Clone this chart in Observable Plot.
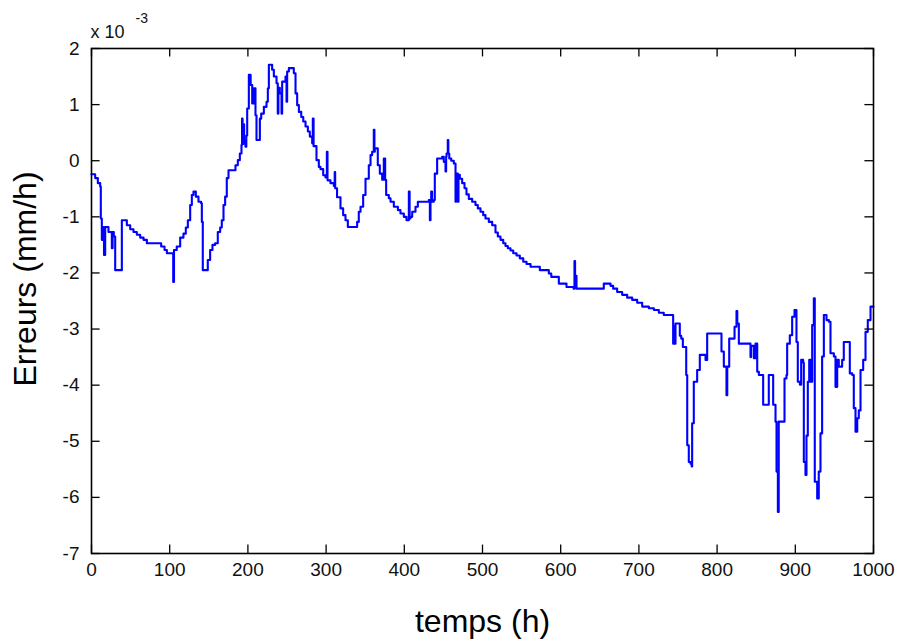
<!DOCTYPE html>
<html>
<head>
<meta charset="utf-8">
<script src="https://cdn.jsdelivr.net/npm/d3@7"></script>
<script src="https://cdn.jsdelivr.net/npm/@observablehq/plot@0.6"></script>
<style>
  html, body { margin: 0; padding: 0; background: #fff; }
  #chart { width: 898px; height: 641px; }
</style>
</head>
<body>
<div id="chart"></div>
<script>
// Time (h)
const T = [
  0, 4.7, 8.1, 11.1, 11.9, 13.2, 14, 16, 17.5, 21.7, 26, 27, 28.5, 30.3, 38.8, 45.2, 49.5, 53.7, 58, 62.2,
  66.5, 70.8, 89.1, 93.4, 96.4, 104.5, 105.5, 109, 113.4, 117.6, 120.6, 123.2, 126.2, 128.3, 130.4, 133.4, 136.8, 140.2, 141.1, 142.3,
  148.7, 151.7, 154.7, 158.1, 161.5, 164.5, 166.6, 168.8, 170.9, 173, 175.2, 184.1, 187.1, 189.7, 191.8,
  192.5, 193.2, 194.5, 195.2, 196.9, 198, 199.1, 201.2, 203.5, 205.5, 207.6, 209.7, 211, 215.3, 217, 220.4, 223.8, 225.5, 226.8, 231,
  233.2, 236.6, 238.2, 239, 240.8, 243, 243.8, 248.1, 249.4, 250.2, 252.4, 258.7, 260.9, 263, 265.2, 268.2, 270.8, 273.7, 276.7, 279.2,
  282.2, 283, 284, 287.7, 290.7, 292.8, 296.3, 299.2, 301, 301.8, 305.6, 309.9, 311, 311.6, 314, 318.4, 321.8, 324.8, 327.8,
  339.7, 341.8, 344, 347.4, 350.4, 354.6, 356.8, 358.9, 361, 361.8, 362.3, 366.1, 368.7, 371.7, 373.8, 375.5, 376.8, 380.2, 382.4, 386.6,
  391.8, 395.1, 399.4, 402.8, 405.8, 406.8, 407.9, 410.1, 414.3, 417.3, 431.4, 432.7, 433.5, 434.4, 435.5, 437.7, 439, 442, 448.4, 450.5,
  452.7, 453.5, 454, 455.6, 456.3, 457.5, 460, 463.3, 465.5, 466.3, 468.4, 469.3, 471, 474, 477, 479.5, 482.5, 486.8, 491, 494,
  497.4, 500.9, 503.8, 508.1, 512.4, 516.6, 519.6, 523, 526.5, 529.4, 532.4, 535.8, 539.3, 543.5, 547.7, 552.1, 556.3, 561.4, 573.3, 584.8,
  587.9, 597.6, 607.4, 616.5, 617.6, 618.4, 619, 620.2, 655.1, 663.7, 667.1, 672.2, 678.6, 685, 691.4, 697.8, 704.2, 712.7, 719.1, 725.5,
  731.8, 743.8, 744.6, 745.5, 746.8, 752.3, 754.1, 756.2, 760.5, 761.8, 763.8, 766, 767.5, 768.1, 770.2, 774.5, 777.9, 785.2, 787.3, 805.6,
  808.6, 812, 813, 815.5, 822.3, 824.8, 825.8, 827.8, 842.7, 843.5, 847, 849.1, 851.3, 853.4, 858.9, 866.1, 871.7, 874.7, 876, 877.7,
  878.8, 886.2, 888.7, 889.6, 893, 896, 899, 901.5, 903.2, 905.8, 907.5, 910.1, 910.9, 913, 914.3, 916, 917.8, 919.4, 921.6, 923.7,
  924.9, 928, 930, 932.2, 934.3, 936.5, 939.9, 942.9, 945, 949.3, 951.4, 953.6, 955.6, 959.9, 962, 969.7, 972.8, 974.8, 977, 979.2,
  981.2, 983.4, 986.8, 989.8, 992.7, 996.2, 1000
];
// Errors (x 10^-3 mm/h)
const E = [
  -0.24, -0.31, -0.40, -0.46, -1.03, -1.41, -1.18, -1.68, -1.18, -1.27, -1.56, -1.27, -1.35, -1.95, -1.06, -1.15, -1.22, -1.27, -1.32, -1.37,
  -1.41, -1.47, -1.53, -1.59, -1.65, -2.16, -1.59, -1.53, -1.37, -1.30, -1.19, -1.06, -0.79, -0.61, -0.55, -0.64, -0.73, -0.76, -1.09, -1.95,
  -1.77, -1.59, -1.50, -1.47, -1.27, -1.19, -1.06, -0.79, -0.64, -0.31, -0.17, -0.08, 0.01, 0.13, 0.28,
  0.75, 0.30, 0.65, 0.35, 0.25, 0.45, 0.93, 1.53, 1.35, 1.02, 1.29, 0.81, 0.37, 0.75, 0.84, 0.96, 1.05, 1.29, 1.71, 1.62,
  1.50, 1.38, 0.84, 1.30, 1.20, 0.84, 1.41, 1.50, 1.05, 1.59, 1.65, 1.56, 1.20, 0.99, 0.87, 0.78, 0.70, 0.61, 0.52, 0.43,
  0.31, 0.75, 0.26, 0.01, -0.11, -0.15, -0.26, -0.30, 0.16, -0.35, -0.40, -0.45, -0.20, -0.49, -0.65, -0.85, -0.97, -1.06, -1.18,
  -1.09, -0.91, -0.82, -0.61, -0.32, -0.08, 0.10, 0.16, 0.55, 0.16, 0.22, -0.08, -0.23, -0.34, 0.04, -0.34, -0.61, -0.67, -0.73, -0.82,
  -0.88, -0.94, -1.00, -1.06, -0.55, -1.03, -1.00, -0.91, -0.82, -0.73, -0.70, -1.06, -0.73, -0.55, -0.73, -0.70, -0.23, 0.04, 0.07, -0.02,
  -0.19, 0.07, 0.13, 0.37, 0.13, 0.04, 0.00, -0.05, -0.73, -0.23, -0.73, -0.25, -0.32, -0.40, -0.49, -0.60, -0.68, -0.73, -0.79, -0.85,
  -0.91, -0.97, -1.03, -1.09, -1.15, -1.28, -1.35, -1.41, -1.47, -1.52, -1.56, -1.60, -1.65, -1.69, -1.74, -1.80, -1.84, -1.89, -1.95, -2.01,
  -2.07, -2.19, -2.25, -2.28, -1.79, -2.26, -2.05, -2.28, -2.19, -2.23, -2.28, -2.34, -2.39, -2.44, -2.48, -2.53, -2.60, -2.63, -2.66, -2.71,
  -2.75, -3.26, -2.95, -3.26, -2.90, -3.12, -3.17, -3.32, -3.82, -5.07, -5.37, -5.40, -5.45, -4.68, -3.94, -3.73, -3.46, -3.55, -3.08, -3.40,
  -3.67, -4.18, -3.67, -3.17, -2.96, -2.68, -2.90, -3.26, -3.50, -3.30, -3.52, -3.26, -3.76, -3.82, -4.35, -3.82, -4.35, -4.65, -5.54, -6.26,
  -4.65, -3.88, -3.82, -3.26, -3.11, -2.78, -2.66, -3.23, -3.94, -3.99, -3.55, -3.60, -5.37, -5.60, -4.90, -3.94, -3.55, -3.94, -2.93, -2.45,
  -5.72, -6.02, -5.54, -4.86, -3.49, -2.75, -2.84, -2.87, -3.43, -3.49, -4.03, -3.55, -3.67, -3.55, -3.23, -3.79, -3.82, -4.41, -4.83, -4.59,
  -4.45, -3.73, -3.55, -3.05, -2.84, -2.60, -2.60
];
const xTicks = [0, 100, 200, 300, 400, 500, 600, 700, 800, 900, 1000];
const yTicks = [2, 1, 0, -1, -2, -3, -4, -5, -6, -7];
const xLabel = "temps (h)";
const yLabel = "Erreurs (mm/h)";
const expBase = "x 10";
const expPow = "-3";

const data = T.map((t, i) => ({t, e: E[i]}));
const font = "'Liberation Sans', Arial, Helvetica, sans-serif";

const chart = Plot.plot({
  width: 898,
  height: 641,
  marginLeft: 91,
  marginRight: 25,
  marginTop: 48,
  marginBottom: 88,
  style: {fontFamily: font, fontSize: "19px", color: "#111", background: "#fff"},
  x: {domain: [0, 1000]},
  y: {domain: [-7, 2]},
  marks: [
    Plot.line(data, {x: "t", y: "e", curve: "step-after", stroke: "#0000ff", strokeWidth: 2.1}),
    // inward tick marks (bottom / top / left / right)
    Plot.ruleX(xTicks, {x: d => d, y1: -7, y2: -7 + 0.15, stroke: "#000", strokeWidth: 1.3}),
    Plot.ruleX(xTicks, {x: d => d, y1: 2, y2: 2 - 0.15, stroke: "#000", strokeWidth: 1.3}),
    Plot.ruleY(yTicks, {y: d => d, x1: 0, x2: 11, stroke: "#000", strokeWidth: 1.3}),
    Plot.ruleY(yTicks, {y: d => d, x1: 1000, x2: 989, stroke: "#000", strokeWidth: 1.3}),
    Plot.frame({stroke: "#000", strokeWidth: 1.6}),
    Plot.axisX({ticks: xTicks, tickSize: 0, tickPadding: 9, tickFormat: d => String(d), label: null, fontSize: 19, fill: "#111"}),
    Plot.axisY({ticks: yTicks, tickSize: 0, tickPadding: 12, tickFormat: d => String(d), label: null, fontSize: 19, fill: "#111"}),
    Plot.text([xLabel], {frameAnchor: "bottom", dy: 68, text: d => d, fontSize: 32, textAnchor: "middle", lineAnchor: "middle", fill: "#000"}),
    Plot.text([yLabel], {frameAnchor: "left", dx: -66, dy: -22, rotate: -90, text: d => d, fontSize: 32, textAnchor: "middle", lineAnchor: "middle", fill: "#000"}),
    Plot.text([expBase], {frameAnchor: "top-left", dx: -1, dy: -11, text: d => d, fontSize: 18, textAnchor: "start", lineAnchor: "bottom", fill: "#111"}),
    Plot.text([expPow], {frameAnchor: "top-left", dx: 44, dy: -26, text: d => d, fontSize: 14, textAnchor: "start", lineAnchor: "bottom", fill: "#111"})
  ]
});
document.getElementById("chart").appendChild(chart);
</script>
</body>
</html>
